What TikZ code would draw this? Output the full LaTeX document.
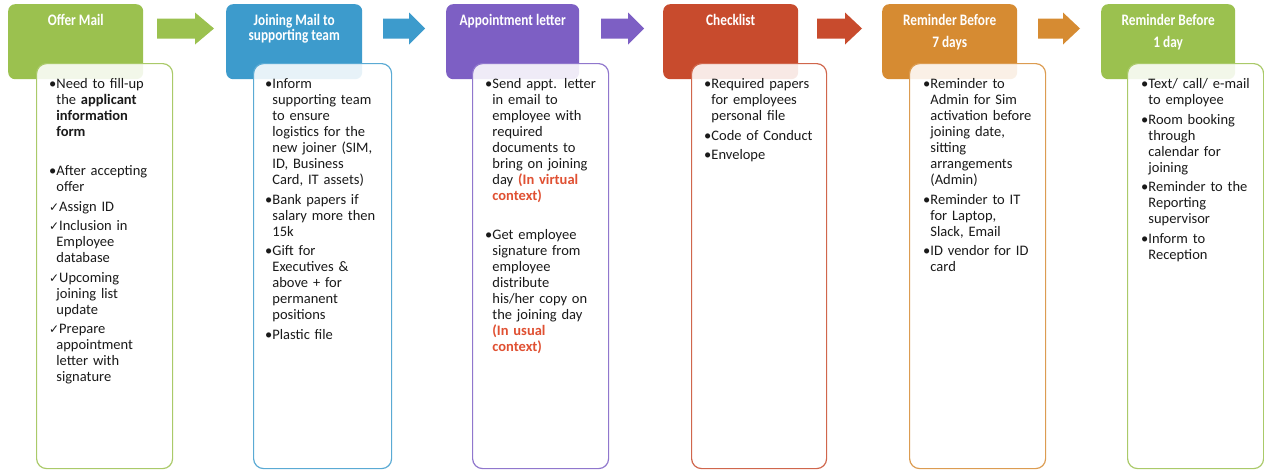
\documentclass[tikz,border=0pt]{standalone}
\usepackage{fontspec}
\setmainfont{Carlito}
\newfontfamily\hdrfont[FakeStretch=0.83]{Carlito}
\newfontfamily\symfont{DejaVu Sans}
\usetikzlibrary{calc}
\definecolor{cg}{RGB}{155,193,79}
\definecolor{cb}{RGB}{61,155,204}
\definecolor{cp}{RGB}{125,95,196}
\definecolor{cr}{RGB}{200,75,45}
\definecolor{co}{RGB}{214,139,50}
\definecolor{redtxt}{RGB}{224,80,50}
\definecolor{bodytxt}{RGB}{26,26,26}
\newcommand\bitem[1]{\par\setbox0\hbox{\textbullet}\hangindent=\wd0 \hangafter=1 \noindent\strut\textbullet#1\par}
\newcommand\citem[1]{\par\setbox0\hbox{\textbullet}\hangindent=\wd0 \hangafter=1 \noindent\strut\makebox[10pt][l]{\symfont\fontsize{12}{12}\selectfont ✓}#1\par}
\newcommand\redt[1]{\textbf{\color{redtxt}#1}}
\newcommand\blockarrow[4]{\fill[#4] (#1,18.5) -- (#2,18.5) -- (#2,12.5) -- (#3,28.5) -- (#2,44.5) -- (#2,38.5) -- (#1,38.5) -- cycle;}
\tikzset{
  hdr/.style={fill=#1, draw=none, rounded corners=7pt, anchor=north west, inner sep=0pt, minimum height=75pt},
  bodybox/.style={draw=#1, line width=1.2pt, fill=white, fill opacity=0.88, rounded corners=10pt, anchor=north west, inner sep=0pt, minimum height=405pt},
  hdrtxt/.style={text=white, font=\hdrfont\bfseries\fontsize{16}{16}\selectfont, anchor=base, inner sep=0pt},
  btxt/.style={anchor=north west, inner sep=0pt, text width=130pt, text=bodytxt,
    font=\fontsize{14.5}{16}\selectfont, execute at begin node={\setlength{\parskip}{3.5pt}\setlength{\parindent}{0pt}\raggedright}}
}
\begin{document}
\begin{tikzpicture}[x=1pt,y=-1pt]
\useasboundingbox[fill=white] (0,0) rectangle (1264,469);
% headers
\node[hdr=cg, minimum width=135pt] (h1) at (8,4) {};
\node[hdr=cb, minimum width=136pt] (h2) at (226,4) {};
\node[hdr=cp, minimum width=133pt] (h3) at (446,4) {};
\node[hdr=cr, minimum width=135pt] (h4) at (663,4) {};
\node[hdr=co, minimum width=135pt] (h5) at (882,4) {};
\node[hdr=cg, minimum width=134pt] (h6) at (1101,4) {};
% header texts
\node[hdrtxt] (t1) at ($(h1.north)+(0,21)$) {Offer Mail};
\node[hdrtxt] (t2a) at ($(h2.north)+(0,21)$) {Joining Mail to};
\node[hdrtxt] (t2b) at ($(h2.north)+(0,36)$) {supporting team};
\node[hdrtxt] (t3) at ($(h3.north)+(0,21)$) {Appointment letter};
\node[hdrtxt] (t4) at ($(h4.north)+(0,21)$) {Checklist};
\node[hdrtxt] (t5a) at ($(h5.north)+(0,21)$) {Reminder Before};
\node[hdrtxt] (t5b) at ($(h5.north)+(0,43)$) {7 days};
\node[hdrtxt] (t6a) at ($(h6.north)+(0,21)$) {Reminder Before};
\node[hdrtxt] (t6b) at ($(h6.north)+(0,43)$) {1 day};
% arrows
\blockarrow{157}{195}{214}{cg}
\blockarrow{383}{409}{425}{cb}
\blockarrow{601}{628}{644}{cp}
\blockarrow{817}{845}{862}{cr}
\blockarrow{1038}{1063}{1080}{co}
% body boxes
\node[bodybox=cg!85, minimum width=136pt] (b1) at (36,63) {};
\node[bodybox=cb!85, minimum width=138pt] (b2) at (253,63) {};
\node[bodybox=cp!85, minimum width=136pt] (b3) at (472,63) {};
\node[bodybox=cr!85, minimum width=135pt] (b4) at (691,63) {};
\node[bodybox=co!85, minimum width=136pt] (b5) at (909,63) {};
\node[bodybox=cg!85, minimum width=136pt] (b6) at (1127,63) {};
% body texts
\node[btxt] (x1) at ($(b1.north west)+(13,6)$) {%
\bitem{Need to fill-up\newline the \textbf{applicant}\newline \textbf{information}\newline \textbf{form}}
\mbox{}\par
\bitem{After accepting\newline offer}
\citem{Assign ID}
\citem{Inclusion in\newline Employee\newline database}
\citem{Upcoming\newline joining list\newline update}
\citem{Prepare\newline appointment\newline letter with\newline signature}};
\node[btxt] (x2) at ($(b2.north west)+(12,6)$) {%
\bitem{Inform\newline supporting team\newline to ensure\newline logistics for the\newline new joiner (SIM,\newline ID, Business\newline Card, IT assets)}
\bitem{Bank papers if\newline salary more then\newline 15k}
\bitem{Gift for\newline Executives \&\newline above + for\newline permanent\newline positions}
\bitem{Plastic file}};
\node[btxt] (x3) at ($(b3.north west)+(13,6)$) {%
\bitem{Send appt. letter\newline in email to\newline employee with\newline required\newline documents to\newline bring on joining\newline day \redt{(In virtual}\newline \redt{context)}}
\mbox{}\par
\bitem{Get employee\newline signature from\newline employee\newline distribute\newline his/her copy on\newline the joining day\newline \redt{(In usual}\newline \redt{context)}}};
\node[btxt] (x4) at ($(b4.north west)+(13,6)$) {%
\bitem{Required papers\newline for employees\newline personal file}
\bitem{Code of Conduct}
\bitem{Envelope}};
\node[btxt] (x5) at ($(b5.north west)+(14,6)$) {%
\bitem{Reminder to\newline Admin for Sim\newline activation before\newline joining date,\newline sitting\newline arrangements\newline (Admin)}
\bitem{Reminder to IT\newline for Laptop,\newline Slack, Email}
\bitem{ID vendor for ID\newline card}};
\node[btxt] (x6) at ($(b6.north west)+(14,6)$) {%
\bitem{Text/ call/ e-mail\newline to employee}
\bitem{Room booking\newline through\newline calendar for\newline joining}
\bitem{Reminder to the\newline Reporting\newline supervisor}
\bitem{Inform to\newline Reception}};
\end{tikzpicture}
\end{document}
